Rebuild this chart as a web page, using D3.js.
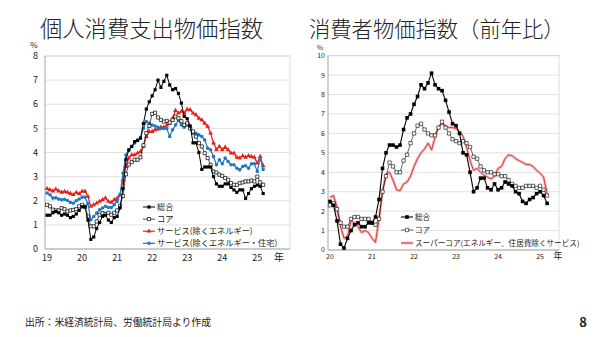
<!DOCTYPE html>
<html><head><meta charset="utf-8">
<script src="https://cdn.jsdelivr.net/npm/d3@7"></script>
<style>body{margin:0;background:#fff}svg{display:block}text{font-family:"Noto Sans CJK JP","Liberation Sans",sans-serif;fill:#222}</style>
</head><body><svg id="c" width="600" height="337"></svg>
<script>
// ---------- Left chart: PCE price index (YoY %, monthly Jan 2019 - Mar 2025) ----------
const pceYears = ["19","20","21","22","23","24","25"];
const pceTotal = [
 1.4,1.4,1.5,1.55,1.5,1.4,1.45,1.4,1.3,1.35,1.45,1.6,
 1.75,1.75,1.2,0.4,0.5,0.85,1.1,1.35,1.4,1.2,1.1,1.3,
 1.35,1.7,2.5,3.7,4.1,4.25,4.45,4.5,4.6,5.2,5.8,6.1,
 6.35,6.6,7.0,6.7,6.95,7.2,6.8,6.6,6.65,6.45,6.05,5.5,
 5.4,5.1,4.4,4.4,4.0,3.3,3.4,3.4,3.4,3.0,2.7,2.6,
 2.6,2.7,2.7,2.55,2.45,2.35,2.45,2.45,2.1,2.3,2.5,2.6,
 2.65,2.6,2.3];
const pceCore = [
 1.83,1.77,1.63,1.6,1.6,1.7,1.65,1.56,1.6,1.62,1.65,1.77,
 1.83,1.75,1.35,0.94,0.94,1.14,1.42,1.49,1.45,1.5,1.42,1.5,
 1.6,1.8,2.2,3.1,3.5,3.6,3.7,3.7,3.8,4.3,4.8,5.1,
 5.6,5.65,5.45,5.35,5.28,5.31,5.24,5.35,5.49,5.42,5.3,5.14,
 5.21,5.0,4.87,4.66,4.39,4.25,3.97,3.77,3.49,3.21,3.17,3.08,
 3.03,2.94,2.87,2.73,2.66,2.66,2.73,2.76,2.8,2.8,2.84,2.8,
 3.0,2.76,2.66];
const pceSvcExEnergy = [
 2.5,2.45,2.4,2.48,2.4,2.35,2.38,2.35,2.3,2.25,2.34,2.29,
 2.39,2.39,2.18,1.77,1.83,1.9,1.97,2.04,2.11,1.97,1.93,2.04,
 2.1,2.25,2.87,3.42,3.77,3.9,3.9,3.97,4.04,4.25,4.66,4.87,
 4.87,4.94,4.97,5.05,5.05,5.14,5.21,5.42,5.74,5.63,5.7,5.63,
 5.79,5.77,5.63,5.56,5.42,5.35,5.21,5.08,4.8,4.39,4.11,4.25,
 4.11,4.22,4.11,3.97,3.97,3.8,3.77,3.86,3.8,3.86,3.83,3.8,
 3.56,3.83,3.45];
const pceSvcExEnergyHousing = [
 2.32,2.25,2.11,2.12,2.07,2.04,2.06,2.01,1.93,1.9,2.0,2.07,
 2.15,2.15,1.88,1.21,1.35,1.49,1.63,1.7,1.77,1.72,1.72,1.83,
 1.97,2.25,3.14,3.9,4.11,4.25,4.39,4.52,4.59,5.0,5.28,5.21,
 5.14,5.1,5.05,5.0,5.0,5.0,4.66,4.94,5.14,5.35,5.14,5.05,
 5.14,5.08,4.8,4.8,4.73,4.66,4.52,4.18,4.11,3.83,3.49,3.7,
 3.53,3.77,3.63,3.49,3.49,3.35,3.28,3.42,3.45,3.35,3.53,3.53,
 3.21,3.77,3.3];
const pceLegend = ["総合","コア","サービス(除くエネルギー)","サービス(除くエネルギー・住宅)"];
const pceYTicks = [0,1,2,3,4,5,6,7,8];

// ---------- Right chart: CPI (YoY %, monthly Jan 2020 - Mar 2025) ----------
const cpiYears = ["20","21","22","23","24","25"];
const cpiTotal = [
 2.5,2.3,1.5,0.3,0.1,0.6,1.0,1.3,1.4,1.2,1.2,1.4,
 1.4,1.7,2.6,4.2,5.0,5.4,5.4,5.3,5.4,6.2,6.8,7.0,
 7.5,7.9,8.5,8.3,8.6,9.1,8.5,8.3,8.2,7.7,7.1,6.5,
 6.4,6.0,5.0,4.9,4.0,3.0,3.2,3.7,3.7,3.2,3.1,3.4,
 3.1,3.2,3.5,3.4,3.3,3.0,2.9,2.5,2.4,2.6,2.7,2.9,
 3.0,2.8,2.4];
const cpiCore = [
 2.3,2.4,2.1,1.4,1.2,1.2,1.6,1.7,1.7,1.6,1.6,1.6,
 1.4,1.3,1.6,3.0,3.8,4.5,4.3,4.0,4.0,4.6,4.9,5.5,
 6.0,6.4,6.5,6.2,6.0,5.9,5.9,6.3,6.6,6.3,6.0,5.7,
 5.6,5.5,5.6,5.5,5.3,4.8,4.7,4.3,4.1,4.0,4.0,3.9,
 3.9,3.8,3.8,3.6,3.4,3.3,3.2,3.2,3.3,3.3,3.3,3.2,
 3.3,3.1,2.8];
const cpiSuperCore = [
 2.7,2.8,2.2,1.2,0.6,0.7,1.5,1.4,1.2,0.9,1.0,0.9,
 0.6,0.4,1.6,3.0,3.9,4.0,3.6,3.1,3.05,3.4,3.5,3.8,
 4.3,4.7,5.0,5.2,5.5,5.15,5.8,6.35,6.5,6.4,6.3,6.3,
 6.25,6.1,5.85,5.3,4.6,4.1,4.2,4.0,3.85,3.75,3.65,3.8,
 4.2,4.3,4.7,4.9,4.85,4.7,4.6,4.5,4.4,4.4,4.3,4.1,
 3.95,3.75,2.9];
const cpiLegend = ["総合","コア","スーパーコア(エネルギー、住居費除くサービス)"];
const cpiYTicks = [0,1,2,3,4,5,6,7,8,9,10];

const svg = d3.select("#c");
const RED = "#e3211c", BLUE = "#1f77bf";

// titles
svg.append("text").attr("x",40).attr("y",37).attr("font-size",22.3).attr("font-weight",300).text("個人消費支出物価指数");
svg.append("text").attr("x",309).attr("y",37).attr("font-size",21.3).attr("font-weight",300).text("消費者物価指数（前年比）");

function drawFrame(g, x, y, yTicks, years, opt){
  const [x0,x1] = x.range(), [y0,y1] = y.range();
  g.selectAll("line.grid").data(yTicks).join("line").attr("class","grid")
    .attr("x1",x0).attr("x2",x1).attr("y1",d=>y(d)).attr("y2",d=>y(d))
    .attr("stroke","#d9d9d9").attr("stroke-width",0.8);
  g.append("rect").attr("x",x0).attr("y",y1).attr("width",x1-x0).attr("height",y0-y1)
    .attr("fill","none").attr("stroke","#d4d4d4").attr("stroke-width",0.8);
  g.append("line").attr("x1",x0).attr("x2",x0).attr("y1",y1).attr("y2",y0).attr("stroke","#a6a6a6").attr("stroke-width",0.8);
  g.append("line").attr("x1",x0).attr("x2",x1).attr("y1",y0).attr("y2",y0).attr("stroke","#a6a6a6").attr("stroke-width",0.8);
  g.selectAll("text.yt").data(yTicks).join("text").attr("class","yt")
    .attr("x",x0-opt.yLabGap).attr("y",d=>y(d)).attr("dy","0.35em").attr("text-anchor","end")
    .attr("font-size",opt.fs).attr("font-family","Liberation Sans, Arial, sans-serif").text(d=>d);
  g.append("text").attr("x",opt.pctX).attr("y",opt.pctY).attr("text-anchor","middle")
    .attr("font-size",opt.pctFs).attr("font-family","Liberation Sans, Arial, sans-serif").text("%");
  g.selectAll("text.xt").data(years).join("text").attr("class","xt")
    .attr("x",(d,i)=>x(i*12)).attr("y",y0+opt.xLabDy).attr("text-anchor","middle")
    .attr("font-size",opt.fs).attr("font-family","Liberation Sans, Arial, sans-serif").text(d=>d);
  g.append("text").attr("x",opt.nenX).attr("y",y0+opt.xLabDy).attr("text-anchor","middle")
    .attr("font-size",opt.nenFs).text("年");
}

function lineOf(x,y){ return d3.line().x((d,i)=>x(i)).y(d=>y(d)); }

function drawSeries(g, data, x, y, st){
  if(st.halo) g.append("path").datum(data).attr("d",lineOf(x,y)).attr("fill","none")
      .attr("stroke",st.halo).attr("stroke-width",st.haloW).attr("stroke-linejoin","round");
  g.append("path").datum(data).attr("d",lineOf(x,y)).attr("fill","none")
    .attr("stroke",st.color).attr("stroke-width",st.w).attr("stroke-linejoin","round");
  if(st.marker){
    const sym = d3.symbol().type(st.marker).size(st.size);
    g.selectAll(null).data(data).join("path")
      .attr("transform",(d,i)=>`translate(${x(i)},${y(d)})`).attr("d",sym)
      .attr("fill",st.fill).attr("stroke",st.stroke||"none").attr("stroke-width",st.sw||0);
  }
}

function drawLegend(g, items, x0, y0, dy, len, fs){
  items.forEach((it,k)=>{
    const yy = y0 + k*dy;
    const lg = g.append("g");
    lg.append("line").attr("x1",x0).attr("x2",x0+len).attr("y1",yy).attr("y2",yy)
      .attr("stroke",it.st.halo||it.st.color).attr("stroke-width",it.st.halo?it.st.haloW:it.st.w);
    if(it.st.halo) lg.append("line").attr("x1",x0).attr("x2",x0+len).attr("y1",yy).attr("y2",yy)
      .attr("stroke",it.st.color).attr("stroke-width",it.st.w);
    if(it.st.marker) lg.append("path").attr("transform",`translate(${x0+len/2},${yy})`)
      .attr("d",d3.symbol().type(it.st.marker).size(it.st.size)).attr("fill",it.st.fill)
      .attr("stroke",it.st.stroke||"none").attr("stroke-width",it.st.sw||0);
    lg.append("text").attr("x",x0+len+2).attr("y",yy).attr("dy","0.35em").attr("font-size",fs).text(it.label);
  });
}

// ---- Left chart
const xL = d3.scaleLinear().domain([-0.7, 83.2]).range([45, 290]);
const yL = d3.scaleLinear().domain([0, 8]).range([249, 56]);
const gL = svg.append("g");
drawFrame(gL, xL, yL, pceYTicks, pceYears, {fs:9, yLabGap:7, pctX:34, pctY:48, pctFs:8, xLabDy:12, nenX:279, nenFs:10});
const stL = [
  {color:"#000", w:1, marker:d3.symbolSquare, size:10, fill:"#000"},
  {color:"#000", w:0.7, marker:d3.symbolSquare, size:10, fill:"#fff", stroke:"#000", sw:0.7},
  {color:RED, w:1.2, marker:d3.symbolTriangle, size:10, fill:RED},
  {color:BLUE, w:1.2, marker:d3.symbolCircle, size:10, fill:BLUE}
];
drawSeries(gL, pceSvcExEnergy, xL, yL, stL[2]);
drawSeries(gL, pceSvcExEnergyHousing, xL, yL, stL[3]);
drawSeries(gL, pceCore, xL, yL, stL[1]);
drawSeries(gL, pceTotal, xL, yL, stL[0]);
drawLegend(gL, pceLegend.map((l,k)=>({label:l, st:stL[k]})), 143, 207, 12.1, 12, 8.2);

// ---- Right chart
const xR = d3.scaleLinear().domain([-0.57, 65.4]).range([328, 559]);
const yR = d3.scaleLinear().domain([0, 10]).range([250, 55.7]);
const gR = svg.append("g");
drawFrame(gR, xR, yR, cpiYTicks, cpiYears, {fs:7, yLabGap:3, pctX:320, pctY:49.5, pctFs:6.5, xLabDy:9, nenX:558, nenFs:9});
const stR = [
  {color:"#000", w:1.1, marker:d3.symbolSquare, size:13, fill:"#000"},
  {color:"#000", w:0.6, marker:d3.symbolSquare, size:11, fill:"#fff", stroke:"#000", sw:0.6},
  {color:"#d42a2a", w:0.9, halo:"#f6b8b8", haloW:2.8}
];
drawSeries(gR, cpiSuperCore, xR, yR, stR[2]);
drawSeries(gR, cpiCore, xR, yR, stR[1]);
drawSeries(gR, cpiTotal, xR, yR, stR[0]);
drawLegend(gR, cpiLegend.map((l,k)=>({label:l, st:stR[k]})), 401, 217, 13, 12, 7.6);

// footer
svg.append("text").attr("x",25).attr("y",326).attr("font-size",9.8).text("出所：米経済統計局、労働統計局より作成");
svg.append("text").attr("x",583).attr("y",327).attr("text-anchor","middle").attr("font-size",13)
  .attr("font-weight","bold").attr("font-family","Liberation Sans, Arial, sans-serif").text("8");
</script></body></html>
